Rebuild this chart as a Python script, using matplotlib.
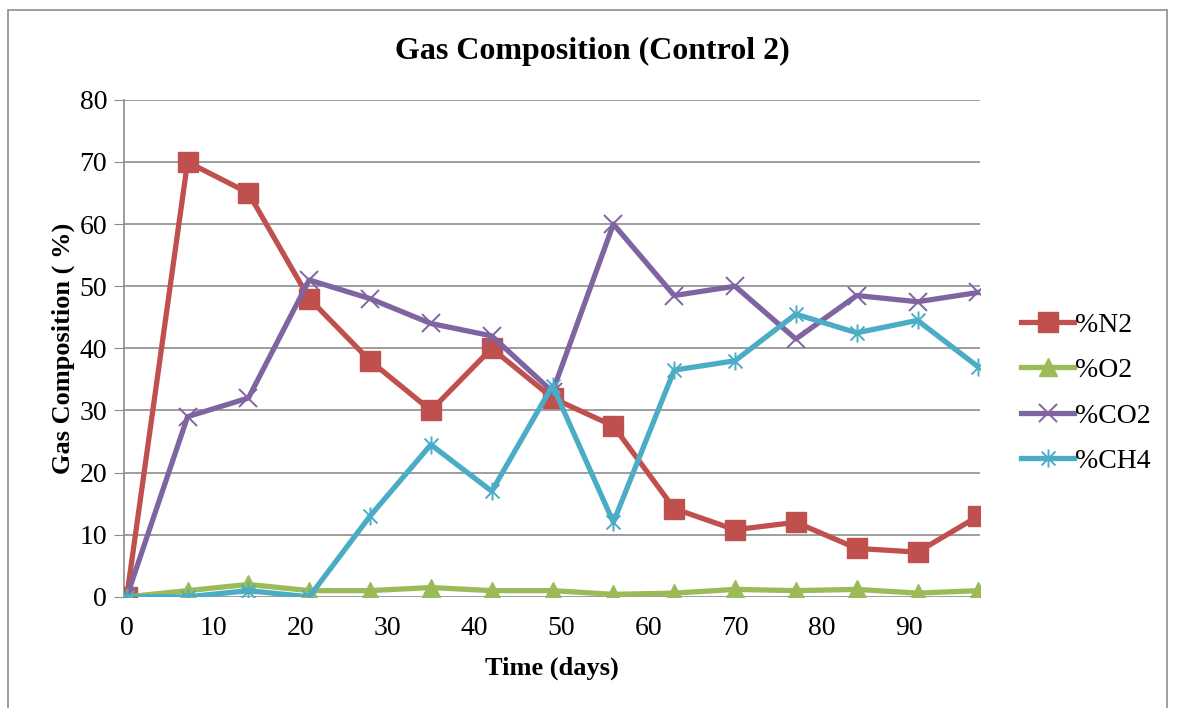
import numpy as np
import matplotlib.pyplot as plt
from matplotlib.path import Path
from matplotlib.patches import Rectangle

# Data
days = [0, 7, 14, 21, 28, 35, 42, 49, 56, 63, 70, 77, 84, 91, 98]
n2 = [0, 70, 65, 48, 38, 30, 40, 32, 27.5, 14.2, 10.8, 12, 7.8, 7.2, 13]
o2 = [0, 1, 2, 1, 1, 1.5, 1, 1, 0.4, 0.6, 1.2, 1, 1.2, 0.6, 1]
co2 = [0, 29, 32, 51, 48, 44, 42, 33, 60, 48.5, 50, 41.5, 48.5, 47.5, 49]
ch4 = [0, 0, 1, 0, 13, 24.5, 17, 34, 12, 36.5, 38, 45.5, 42.5, 44.5, 37]

plt.rcParams['font.family'] = ['Liberation Serif', 'DejaVu Serif']

# Excel-style asterisk: an x plus a vertical bar
star = Path([(-1, -1), (1, 1), (-1, 1), (1, -1), (0, -1.3), (0, 1.3)],
            [Path.MOVETO, Path.LINETO, Path.MOVETO, Path.LINETO,
             Path.MOVETO, Path.LINETO])

fig = plt.figure(figsize=(11.78, 7.08), dpi=100)
ax = fig.add_axes([0.105, 0.157, 0.727, 0.702])

fig.patches.append(Rectangle((0.007, -0.01), 0.984, 0.996, transform=fig.transFigure,
                             fill=False, edgecolor='#8c8c8c', linewidth=1.2))

lw = 3.8
ax.plot(days, n2, color='#C0504D', lw=lw, marker='s', ms=14, label='%N2', zorder=3)
ax.plot(days, o2, color='#9BBB59', lw=lw, marker='^', ms=13, label='%O2', zorder=3)
ax.plot(days, co2, color='#8064A2', lw=lw, marker='x', ms=13, mew=1.4, label='%CO2', zorder=3)
ax.plot(days, ch4, color='#4BACC6', lw=lw, marker=star, ms=13, mew=1.4, label='%CH4', zorder=3)

ax.set_xlim(-0.35, 98.2)
ax.set_ylim(0, 80)
ax.set_xticks(np.arange(0, 91, 10))
ax.set_yticks(np.arange(0, 81, 10))
ax.grid(axis='y', color='#8c8c8c', linewidth=1.2)
ax.set_axisbelow(True)
for s in ['top', 'right', 'bottom']:
    ax.spines[s].set_visible(False)
ax.spines['left'].set_color('#8c8c8c')
ax.spines['left'].set_linewidth(1.2)
ax.tick_params(axis='y', length=7, color='#8c8c8c', labelsize=20, pad=5)
ax.tick_params(axis='x', length=0, labelsize=20, pad=14)

fig.text(0.503, 0.927, 'Gas Composition (Control 2)', fontsize=23, fontweight='bold',
         ha='center', va='center')
ax.set_xlabel('Time (days)', fontsize=19, fontweight='bold', labelpad=11)
ax.set_ylabel('Gas Composition ( %)', fontsize=19, fontweight='bold', labelpad=3)

ax.legend(loc='center left', bbox_to_anchor=(1.035, 0.41), frameon=False, fontsize=20,
          handlelength=1.9, labelspacing=0.72, handletextpad=0.05, borderaxespad=0)

fig.savefig('out.png', dpi=100)
